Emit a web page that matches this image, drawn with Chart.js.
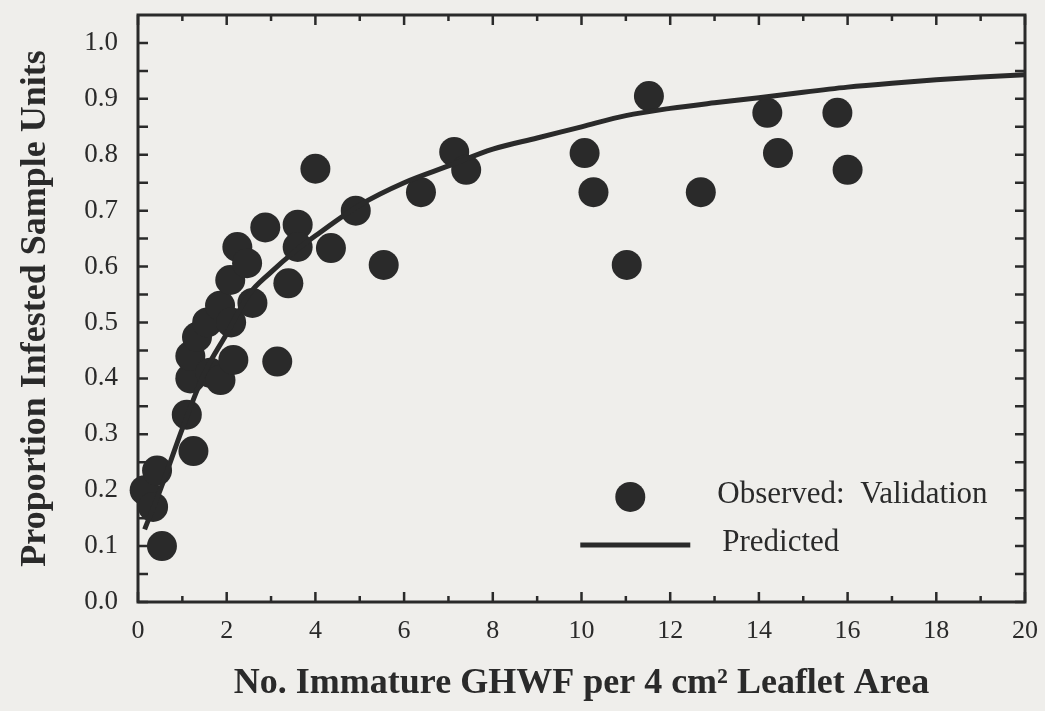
<!DOCTYPE html>
<html>
<head>
<meta charset="utf-8">
<script src="https://cdn.jsdelivr.net/npm/chart.js@4/dist/chart.umd.min.js"></script>
<style>
html,body{margin:0;padding:0;background:#efeeeb;}
#wrap{width:1045px;height:711px;}
</style>
</head>
<body>
<div id="wrap"><canvas id="c" width="1045" height="711"></canvas></div>
<script>
// Observed validation data (x = immature GHWF per leaflet area, y = proportion infested)
const obsX = [0.15, 0.43, 0.34, 0.54,
  1.10, 1.25, 1.18, 1.18, 1.33, 1.56, 1.63, 1.86, 1.85, 2.08, 2.10, 2.15, 2.24, 2.46, 2.58,
  2.87, 3.14, 3.39, 3.60, 3.60, 4.00, 4.35, 4.91, 5.54, 6.38, 7.13, 7.40,
  10.07, 10.27, 11.02, 11.52, 12.69, 14.19, 14.43, 15.77, 16.00];
const obsY = [0.20, 0.235, 0.17, 0.10,
  0.335, 0.27, 0.40, 0.44, 0.474, 0.50, 0.41, 0.397, 0.53, 0.576, 0.50, 0.433, 0.635, 0.606, 0.535,
  0.67, 0.43, 0.57, 0.675, 0.635, 0.775, 0.633, 0.70, 0.603, 0.733, 0.805, 0.773,
  0.803, 0.733, 0.603, 0.905, 0.733, 0.875, 0.803, 0.875, 0.773];
// Predicted curve
const predX = [0.15, 0.5, 1.0, 1.5, 2.0, 2.5, 3.0, 3.5, 4.0, 5.0, 6.0, 7.0, 8.0, 9.0, 10.0, 11.0, 12.0, 13.0, 14.0, 15.0, 16.0, 17.0, 18.0, 19.0, 20.0];
const predY = [0.13, 0.20, 0.31, 0.41, 0.48, 0.55, 0.59, 0.625, 0.655, 0.71, 0.75, 0.78, 0.81, 0.83, 0.85, 0.87, 0.883, 0.893, 0.902, 0.912, 0.921, 0.928, 0.934, 0.939, 0.943];
// Axis settings
const xTickLabels = ['0','2','4','6','8','10','12','14','16','18','20'];
const yTickLabels = ['0.0','0.1','0.2','0.3','0.4','0.5','0.6','0.7','0.8','0.9','1.0'];
const xTitle = 'No. Immature GHWF per 4 cm\u00B2 Leaflet Area';
const yTitle = 'Proportion Infested Sample Units';
const legendObserved = 'Observed:  Validation';
const legendPredicted = 'Predicted';

const INK = '#2a2a2a';
const SERIF = "'Liberation Serif', 'Times New Roman', serif";

const obsData = obsX.map((x, i) => ({x: x, y: obsY[i]}));
const predData = predX.map((x, i) => ({x: x, y: predY[i]}));

const framePlugin = {
  id: 'frame',
  beforeDraw(chart) {
    const ctx = chart.ctx;
    ctx.save();
    ctx.fillStyle = '#efeeeb';
    ctx.fillRect(0, 0, chart.width, chart.height);
    ctx.restore();
  },
  afterDraw(chart) {
    const ctx = chart.ctx;
    const a = chart.chartArea;
    const xs = chart.scales.x, ys = chart.scales.y;
    ctx.save();
    ctx.strokeStyle = INK;
    ctx.lineWidth = 3;
    ctx.strokeRect(a.left, a.top, a.right - a.left, a.bottom - a.top);
    ctx.lineWidth = 2.5;
    ctx.beginPath();
    for (let v = 0; v <= 20.001; v += 1) {
      const px = xs.getPixelForValue(v);
      const len = (Math.round(v) % 2 === 0) ? 10 : 6;
      ctx.moveTo(px, a.bottom); ctx.lineTo(px, a.bottom - len);
      ctx.moveTo(px, a.top); ctx.lineTo(px, a.top + len);
    }
    for (let k = 0; k <= 20; k++) {
      const v = k * 0.05;
      const py = ys.getPixelForValue(v);
      ctx.moveTo(a.left, py); ctx.lineTo(a.left + 10, py);
      ctx.moveTo(a.right, py); ctx.lineTo(a.right - 10, py);
    }
    ctx.stroke();

    // legend
    const cx = xs.getPixelForValue(11.1);
    const yObs = ys.getPixelForValue(0.188);
    const yPred = ys.getPixelForValue(0.102);
    ctx.fillStyle = INK;
    ctx.beginPath();
    ctx.arc(cx, yObs, 15, 0, Math.PI * 2);
    ctx.fill();
    ctx.lineWidth = 5;
    ctx.beginPath();
    ctx.moveTo(cx - 50, yPred); ctx.lineTo(cx + 60, yPred);
    ctx.stroke();
    ctx.font = '31px ' + SERIF;
    ctx.textBaseline = 'middle';
    ctx.textAlign = 'left';
    ctx.fillText(legendObserved, cx + 87, yObs - 2);
    ctx.fillText(legendPredicted, cx + 92, yPred - 2);
    ctx.restore();
  }
};

new Chart(document.getElementById('c'), {
  type: 'scatter',
  data: {
    datasets: [
      {
        label: 'Observed: Validation',
        data: obsData,
        backgroundColor: INK,
        borderColor: INK,
        borderWidth: 0,
        pointRadius: 15,
        pointHoverRadius: 15,
        clip: false,
        order: 2
      },
      {
        type: 'line',
        label: 'Predicted',
        data: predData,
        borderColor: INK,
        borderWidth: 5,
        pointRadius: 0,
        fill: false,
        showLine: true,
        cubicInterpolationMode: 'monotone',
        order: 1
      }
    ]
  },
  options: {
    responsive: false,
    animation: false,
    events: [],
    layout: { padding: { top: 14, right: 20, left: 0, bottom: 0 } },
    plugins: { legend: { display: false }, tooltip: { enabled: false } },
    scales: {
      x: {
        type: 'linear',
        min: 0, max: 20,
        grid: { display: false, drawTicks: false },
        border: { display: false },
        ticks: {
          stepSize: 2,
          padding: 14,
          color: INK,
          font: { family: SERIF, size: 26 },
          maxRotation: 0,
          callback: (v) => { const i = Math.round(v / 2); return (Math.abs(v - i * 2) < 1e-6 && xTickLabels[i] !== undefined) ? xTickLabels[i] : ''; }
        },
        title: {
          display: true, text: xTitle, color: INK,
          font: { family: SERIF, size: 36, weight: 'bold' },
          padding: { top: 0, bottom: 6 }
        },
        afterFit: (s) => { s.height = 109; s.paddingLeft = 0; s.paddingRight = 0; }
      },
      y: {
        type: 'linear',
        min: 0, max: 1.05,
        grid: { display: false, drawTicks: false },
        border: { display: false },
        ticks: {
          stepSize: 0.1,
          includeBounds: false,
          padding: 20,
          color: INK,
          font: { family: SERIF, size: 27 },
          callback: (v) => { const r = Math.round(v * 100); return (r % 10 === 0) ? yTickLabels[r / 10] : ''; }
        },
        title: {
          display: true, text: yTitle, color: INK,
          font: { family: SERIF, size: 36, weight: 'bold' },
          padding: { top: 14, bottom: 0 }
        },
        afterFit: (s) => { s.width = 138; s.paddingTop = 0; s.paddingBottom = 0; }
      }
    }
  },
  plugins: [framePlugin]
});
</script>
</body>
</html>
